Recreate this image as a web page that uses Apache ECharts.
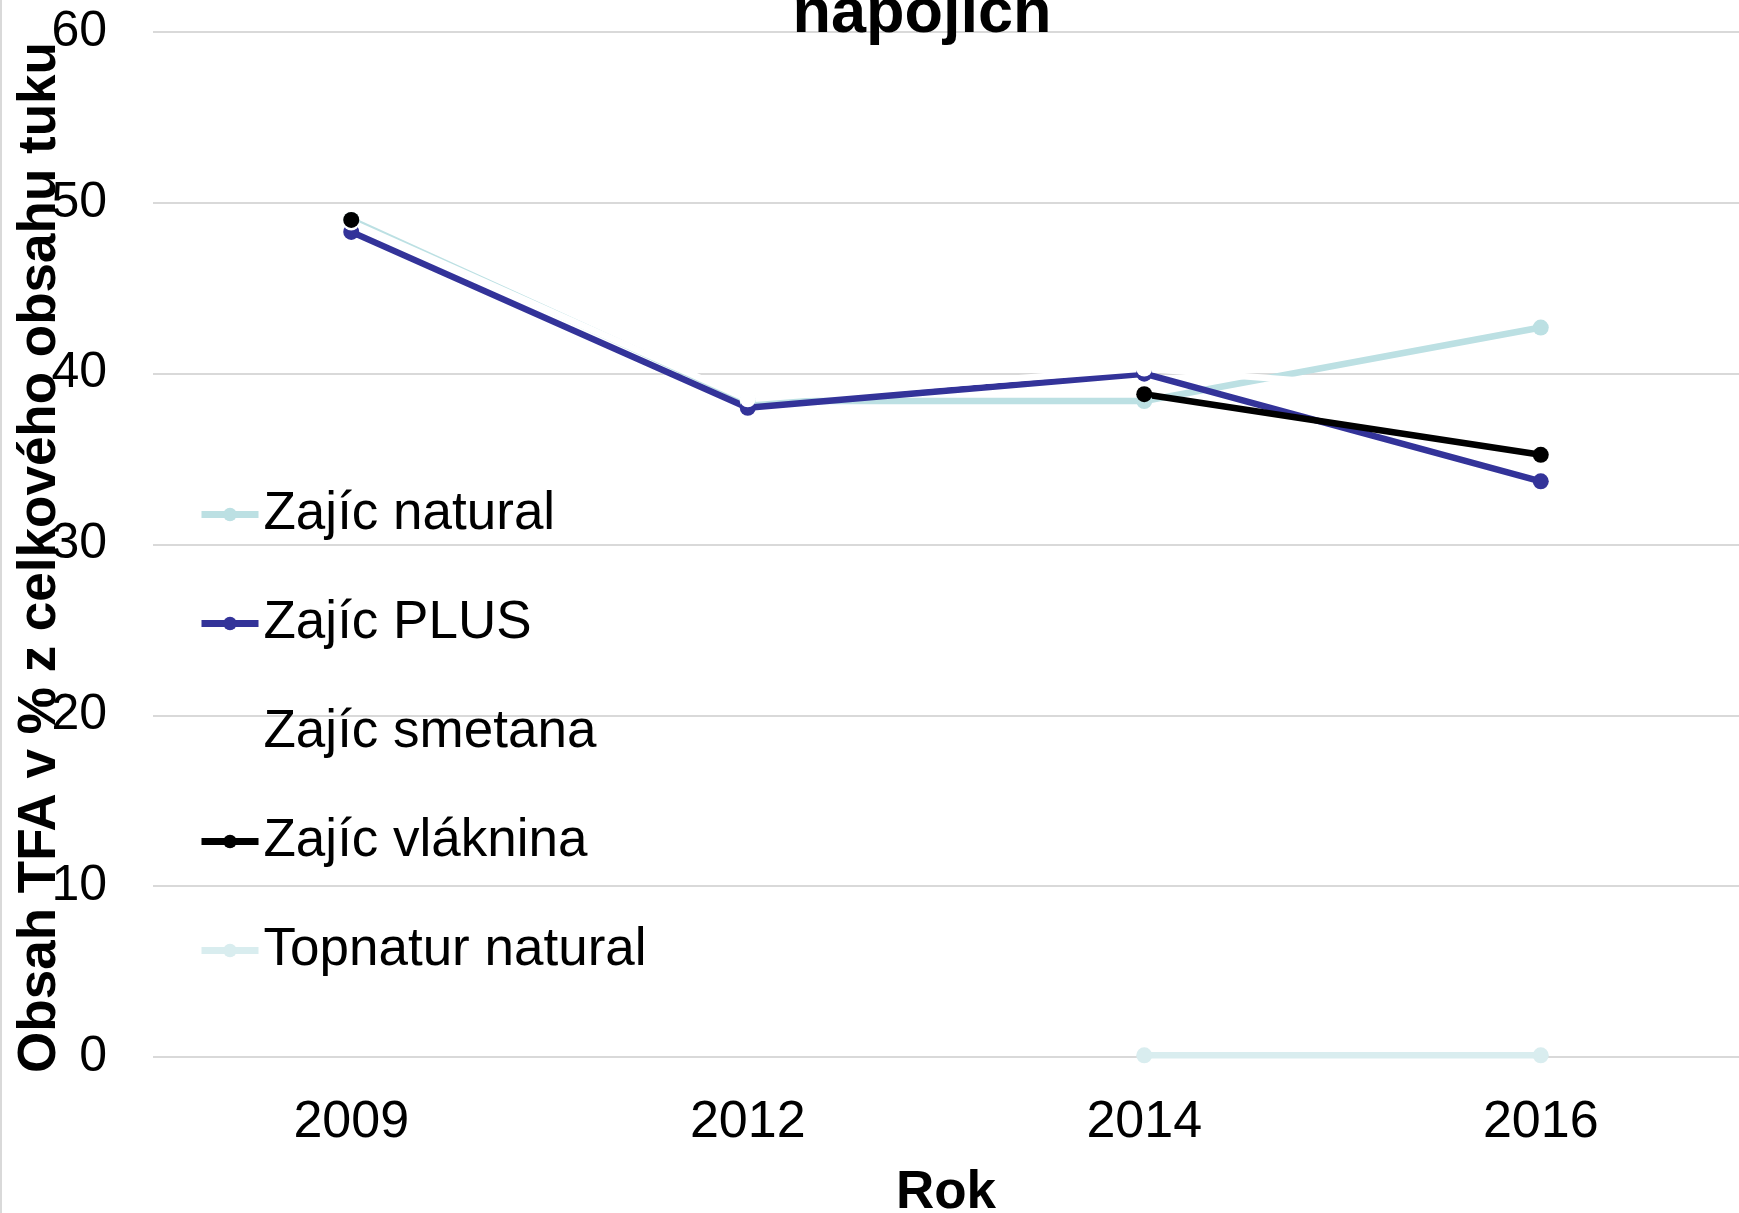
<!DOCTYPE html>
<html>
<head>
<meta charset="utf-8">
<title>Obsah TFA</title>
<script src="https://cdn.jsdelivr.net/npm/echarts@6/dist/echarts.min.js"></script>
<style>
	html, body { margin: 0; padding: 0; background: #fff; }
	#chart { width: 1739px; height: 1213px; }
</style>
</head>
<body>
<div id="chart"></div>
<script>
var years = ['2009', '2012', '2014', '2016'];
var seriesNames = ['Zajíc natural', 'Zajíc PLUS', 'Zajíc smetana', 'Zajíc vláknina', 'Topnatur natural'];
var seriesColors = ['#bce0e3', '#333399', '#ffffff', '#000000', '#d9edef'];

// hodnoty (null = chybí)
var zajicNatural = [49.0, 38.4, 38.4, 42.7];
var zajicPlus = [48.3, 38.0, 40.0, 33.7];
var zajicSmetana = [48.85, 38.5, 40.3, 38.5];
var zajicVlaknina = [49.0, null, 38.8, 35.25];
var topnaturNatural = [null, null, 0.1, 0.1];

var yMin = 0;
var yMax = 60;
var yStep = 10;

var FONT = '"Liberation Sans", Arial, sans-serif';

function makeSeries(name, values, color){
	return {
		name: name,
		type: 'line',
		data: values,
		connectNulls: false,
		symbol: 'circle',
		symbolSize: 16,
		itemStyle: { color: color },
		lineStyle: { color: color, width: 6.5 },
		emphasis: { disabled: true },
		animation: false
	};
}

var chart = echarts.init(document.getElementById('chart'));
var allValues = [zajicNatural, zajicPlus, zajicSmetana, zajicVlaknina, topnaturNatural];
var series = [];
for (var i = 0; i < seriesNames.length; i++) {
	series.push(makeSeries(seriesNames[i], allValues[i], seriesColors[i]));
}

var option = {
	backgroundColor: '#ffffff',
	animation: false,
	title: {
		text: 'napojích',
		left: 922,
		textAlign: 'center',
		top: -17,
		padding: 0,
		textStyle: { fontFamily: FONT, fontSize: 63, fontWeight: 'bold', color: '#000' }
	},
	legend: {
		orient: 'vertical',
		left: 198,
		top: 488,
		padding: 0,
		itemGap: 56,
		itemWidth: 57,
		itemHeight: 17,
		data: seriesNames,
		lineStyle: { width: 7 },
		textStyle: { fontFamily: FONT, fontSize: 53, color: '#000' }
	},
	grid: {
		left: 153,
		right: 0,
		top: 32,
		bottom: 156,
		containLabel: false,
		outerBoundsMode: 'none'
	},
	xAxis: {
		type: 'category',
		data: years,
		boundaryGap: true,
		name: 'Rok',
		nameLocation: 'middle',
		nameGap: 110,
		nameMoveOverlap: false,
		nameTextStyle: { fontFamily: FONT, fontSize: 53, fontWeight: 'bold', color: '#000' },
		axisLine: { show: false },
		axisTick: { show: false },
		axisLabel: { fontFamily: FONT, fontSize: 52, color: '#000', margin: 40 }
	},
	yAxis: {
		type: 'value',
		min: yMin,
		max: yMax,
		interval: yStep,
		name: 'Obsah TFA v % z celkového obsahu tuku',
		nameLocation: 'middle',
		nameGap: 86,
		nameMoveOverlap: false,
		nameTextStyle: { fontFamily: FONT, fontSize: 53, fontWeight: 'bold', color: '#000', padding: [0, 26, 0, 0] },
		axisLine: { show: false },
		axisTick: { show: false },
		axisLabel: { fontFamily: FONT, fontSize: 50, color: '#000', margin: 46 },
		splitLine: { show: true, lineStyle: { color: '#d9d9d9', width: 2 } }
	},
	graphic: [{
		type: 'line',
		shape: { x1: 1, y1: 0, x2: 1, y2: 1213 },
		style: { stroke: '#d9d9d9', lineWidth: 2 },
		silent: true
	}],
	series: series
};

chart.setOption(option);
</script>
</body>
</html>
